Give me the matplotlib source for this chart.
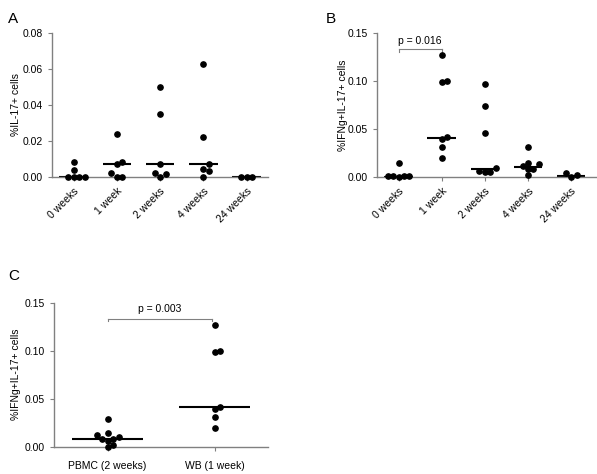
import numpy as np
import matplotlib.pyplot as plt

plt.rcParams["font.family"] = ["Liberation Sans", "DejaVu Sans"]

# Panel A: %IL-17+ cells by time point
groups_ab = ["0 weeks", "1 week", "2 weeks", "4 weeks", "24 weeks"]
il17 = [
    [0.008, 0.004, 0.0, 0.0, 0.0, 0.0],
    [0.024, 0.0082, 0.0072, 0.002, 0.0, 0.0],
    [0.050, 0.035, 0.0072, 0.002, 0.0013, 0.0],
    [0.063, 0.022, 0.0072, 0.0043, 0.003, 0.0],
    [0.0, 0.0, 0.0],
]
il17_med = [0.0, 0.0072, 0.0072, 0.0072, 0.0]

# Panel B: %IFNg+IL-17+ cells by time point
ifng = [
    [0.0146, 0.001, 0.0005, 0.0, 0.0005, 0.001],
    [0.1268, 0.0997, 0.099, 0.0418, 0.039, 0.0314, 0.0192],
    [0.0972, 0.0742, 0.0453, 0.0087, 0.0063, 0.0045, 0.0049],
    [0.0307, 0.0139, 0.0132, 0.0108, 0.008, 0.008, 0.0014],
    [0.0035, 0.0, 0.0014],
]
ifng_med = [0.0, 0.041, 0.0084, 0.0098, 0.0007]

# Panel C: PBMC vs whole blood
groups_c = ["PBMC (2 weeks)", "WB (1 week)"]
pbmc = [0.0288, 0.0139, 0.0118, 0.0101, 0.0083, 0.008, 0.0063, 0.0017, 0.0]
wb = [0.1268, 0.0997, 0.099, 0.0418, 0.039, 0.0314, 0.0192]
c_med = [0.0083, 0.0413]

GRAY = "#808080"
FS = 7.5


def swarm(ax, x0, vals, ms):
    # place points side by side where they would overlap (in pixels)
    trans = ax.transData
    d = ms * 1.45  # marker diameter in px
    placed = []
    xs = np.zeros(len(vals))
    order = np.argsort(vals)
    for i in order:
        px0, py = trans.transform((x0, vals[i]))
        for k in range(40):
            off = ((k + 1) // 2) * d * (1 if k % 2 else -1) if k else 0
            ok = all((px0 + off - qx) ** 2 + (py - qy) ** 2 >= (d * 0.98) ** 2
                     for qx, qy in placed)
            if ok:
                break
        placed.append((px0 + off, py))
        xs[i] = trans.inverted().transform((px0 + off, py))[0]
    return xs


def style(ax):
    for s in ["top", "right"]:
        ax.spines[s].set_visible(False)
    for s in ["left", "bottom"]:
        ax.spines[s].set_color(GRAY)
        ax.spines[s].set_linewidth(1)
    ax.tick_params(colors=GRAY, labelcolor="black", labelsize=FS,
                   length=3, width=0.8)


def panel(ax, data, meds, labels, ylim, yticks, ylabel, rot, halfw, lpad):
    ax.set_xlim(-0.5, len(labels) - 0.5)
    ax.set_ylim(*ylim)
    style(ax)
    ms = 3.8
    for g, vals in enumerate(data):
        xs = swarm(ax, g, vals, ms)
        ax.plot(xs, vals, "o", color="black", ms=ms, clip_on=False, zorder=3)
        ax.plot([g - halfw, g + halfw], [meds[g], meds[g]], color="black",
                lw=1.5, zorder=2, solid_capstyle="butt")
    ax.set_yticks(yticks)
    ax.set_yticklabels([f"{t:.2f}" for t in yticks])
    ax.set_xticks(range(len(labels)))
    if rot:
        ax.set_xticklabels(labels, rotation=45, ha="right",
                           rotation_mode="anchor")
    else:
        ax.set_xticklabels(labels)
        ax.tick_params(axis="x", pad=7)
    ax.set_ylabel(ylabel, fontsize=FS, labelpad=lpad)


def sigbar(ax, x1, x2, y, txt, ty):
    ax.plot([x1, x2], [y, y], color=GRAY, lw=0.8)
    for x in (x1, x2):
        ax.plot([x, x], [y, y - 0.0025], color=GRAY, lw=0.8)
    ax.text((x1 + x2) / 2, ty, txt, ha="center", va="bottom", fontsize=FS)


fig = plt.figure(figsize=(5.97, 4.74), dpi=100)

axA = fig.add_axes([0.0871, 0.627, 0.362, 0.303])
panel(axA, il17, il17_med, groups_ab, (0, 0.08),
      [0, 0.02, 0.04, 0.06, 0.08], "%IL-17+ cells", True, 0.33, 1)

axB = fig.add_axes([0.6315, 0.627, 0.3685, 0.303])
panel(axB, ifng, ifng_med, groups_ab, (0, 0.15),
      [0, 0.05, 0.10, 0.15], "%IFNg+IL-17+ cells", True, 0.33, 0)
axB.set_xlim(-0.5, 4.6)
sigbar(axB, 0, 1, 0.1333, "p = 0.016", 0.137)

axC = fig.add_axes([0.0905, 0.0576, 0.359, 0.3038])
panel(axC, [pbmc, wb], c_med, groups_c, (0, 0.15),
      [0, 0.05, 0.10, 0.15], "%IFNg+IL-17+ cells", False, 0.33, 2.5)
sigbar(axC, 0, 0.97, 0.133, "p = 0.003", 0.138)

fig.text(0.013, 0.975, "A", fontsize=11, va="top")
fig.text(0.545, 0.975, "B", fontsize=11, va="top")
fig.text(0.013, 0.432, "C", fontsize=11, va="top")

fig.savefig("out.png", dpi=100)
